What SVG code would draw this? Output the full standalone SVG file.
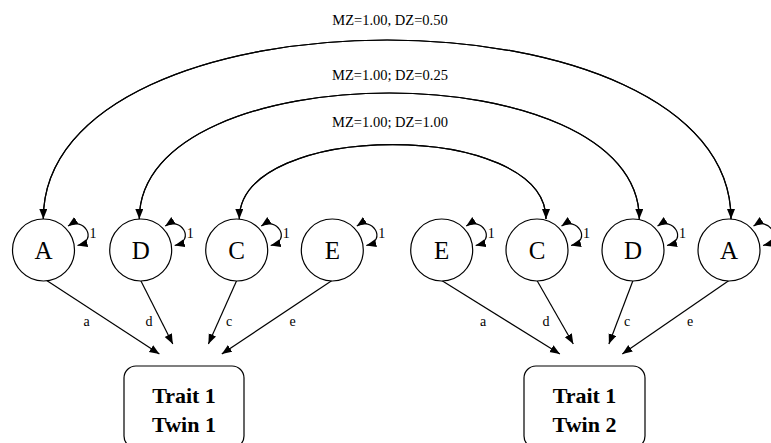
<svg xmlns="http://www.w3.org/2000/svg" width="771" height="443" viewBox="0 0 771 443">
<style>
  .bg{fill:#fff}
  .node{fill:#fff;stroke:#000;stroke-width:1.2}
  .edge{fill:none;stroke:#000;stroke-width:1.2}
  .arr{marker-end:url(#ah)}
  .loop{fill:none;stroke:#000;stroke-width:1.2;marker-start:url(#ah2);marker-end:url(#ah2)}
  .big{font-family:"Liberation Serif","Times New Roman",serif;font-size:25px;text-anchor:middle;fill:#000}
  .lab{font-family:"Liberation Serif","Times New Roman",serif;font-size:14px;text-anchor:middle;fill:#000}
  .top{font-family:"Liberation Serif","Times New Roman",serif;font-size:14.5px;text-anchor:middle;fill:#000}
  .box{font-family:"Liberation Serif","Times New Roman",serif;font-size:22px;font-weight:bold;text-anchor:middle;fill:#000}
</style>
<defs>
  <marker id="ah" markerUnits="userSpaceOnUse" markerWidth="11" markerHeight="9" refX="10" refY="4" orient="auto">
    <path d="M0,0 L10,4 L0,8 z" fill="#000"/>
  </marker>
  <marker id="ah2" markerUnits="userSpaceOnUse" markerWidth="11" markerHeight="9" refX="10" refY="4" orient="auto-start-reverse">
    <path d="M0,0 L10,4 L0,8 z" fill="#000"/>
  </marker>
</defs>
<rect class="bg" x="0" y="0" width="771" height="443"/>

<g id="connectors">
  <path class="edge arr" d="M43.3,219 C43.3,-19.7 731,-19.7 731,219"/>
  <path class="edge arr" d="M731,219 C731,-19.7 43.3,-19.7 43.3,219"/>
  <path class="edge arr" d="M139.3,219 C139.3,51 639.3,51 639.3,219"/>
  <path class="edge arr" d="M639.3,219 C639.3,51 139.3,51 139.3,219"/>
  <path class="edge arr" d="M239.3,219 C239.3,119.7 546,119.7 546,219"/>
  <path class="edge arr" d="M546,219 C546,119.7 239.3,119.7 239.3,219"/>
  <text class="top" x="390" y="25">MZ=1.00, DZ=0.50</text>
  <text class="top" x="390" y="80">MZ=1.00; DZ=0.25</text>
  <text class="top" x="390" y="127">MZ=1.00; DZ=1.00</text>

  <path class="edge arr" d="M46.7,280.5 L159.4,354"/>
  <path class="edge arr" d="M140.7,280.5 L172.8,344"/>
  <path class="edge arr" d="M236.7,280.5 L208.4,344"/>
  <path class="edge arr" d="M332,280.5 L221.8,354"/>
  <text class="lab" x="86.7" y="326">a</text>
  <text class="lab" x="149" y="326">d</text>
  <text class="lab" x="229" y="326">c</text>
  <text class="lab" x="292.7" y="326">e</text>

  <path class="edge arr" d="M441.7,280.5 L559.9,354"/>
  <path class="edge arr" d="M537,280.5 L573.3,344"/>
  <path class="edge arr" d="M633,280.5 L608.9,344"/>
  <path class="edge arr" d="M729,280.5 L622.3,354"/>
  <text class="lab" x="483" y="326">a</text>
  <text class="lab" x="546" y="326">d</text>
  <text class="lab" x="627" y="326">c</text>
  <text class="lab" x="690" y="326">e</text>
</g>

<g id="A1">
  <circle class="node" cx="43.5" cy="250" r="31"/>
  <text class="big" x="43.5" y="258.5">A</text>
  <path class="loop" d="M68,226 C83,216 99.5,240 77.5,245.5"/>
  <text class="lab" x="93" y="238">1</text>
</g>
<g id="D1">
  <circle class="node" cx="140.7" cy="250" r="31"/>
  <text class="big" x="140.7" y="258.5">D</text>
  <path class="loop" d="M165.2,226 C180.2,216 196.7,240 174.7,245.5"/>
  <text class="lab" x="190.2" y="238">1</text>
</g>
<g id="C1">
  <circle class="node" cx="236.7" cy="250" r="31"/>
  <text class="big" x="236.7" y="258.5">C</text>
  <path class="loop" d="M261.2,226 C276.2,216 292.7,240 270.7,245.5"/>
  <text class="lab" x="286.2" y="238">1</text>
</g>
<g id="E1">
  <circle class="node" cx="332.3" cy="250" r="31"/>
  <text class="big" x="332.3" y="258.5">E</text>
  <path class="loop" d="M356.8,226 C371.8,216 388.3,240 366.3,245.5"/>
  <text class="lab" x="381.8" y="238">1</text>
</g>
<g id="E2">
  <circle class="node" cx="441.7" cy="250" r="31"/>
  <text class="big" x="441.7" y="258.5">E</text>
  <path class="loop" d="M466.2,226 C481.2,216 497.7,240 475.7,245.5"/>
  <text class="lab" x="491.2" y="238">1</text>
</g>
<g id="C2">
  <circle class="node" cx="537" cy="250" r="31"/>
  <text class="big" x="537" y="258.5">C</text>
  <path class="loop" d="M561.5,226 C576.5,216 593,240 571,245.5"/>
  <text class="lab" x="586.5" y="238">1</text>
</g>
<g id="D2">
  <circle class="node" cx="633" cy="250" r="31"/>
  <text class="big" x="633" y="258.5">D</text>
  <path class="loop" d="M657.5,226 C672.5,216 689,240 667,245.5"/>
  <text class="lab" x="682.5" y="238">1</text>
</g>
<g id="A2">
  <circle class="node" cx="729" cy="250" r="31"/>
  <text class="big" x="729" y="258.5">A</text>
  <path class="loop" d="M753.5,226 C768.5,216 785,240 763,245.5"/>
</g>

<g id="Twin1">
  <rect class="node" x="124" y="366" width="120" height="82" rx="12"/>
  <text class="box" x="184" y="403">Trait 1</text>
  <text class="box" x="184" y="432">Twin 1</text>
</g>
<g id="Twin2">
  <rect class="node" x="524" y="366" width="121" height="82" rx="12"/>
  <text class="box" x="584.5" y="403">Trait 1</text>
  <text class="box" x="584.5" y="432">Twin 2</text>
</g>
</svg>
